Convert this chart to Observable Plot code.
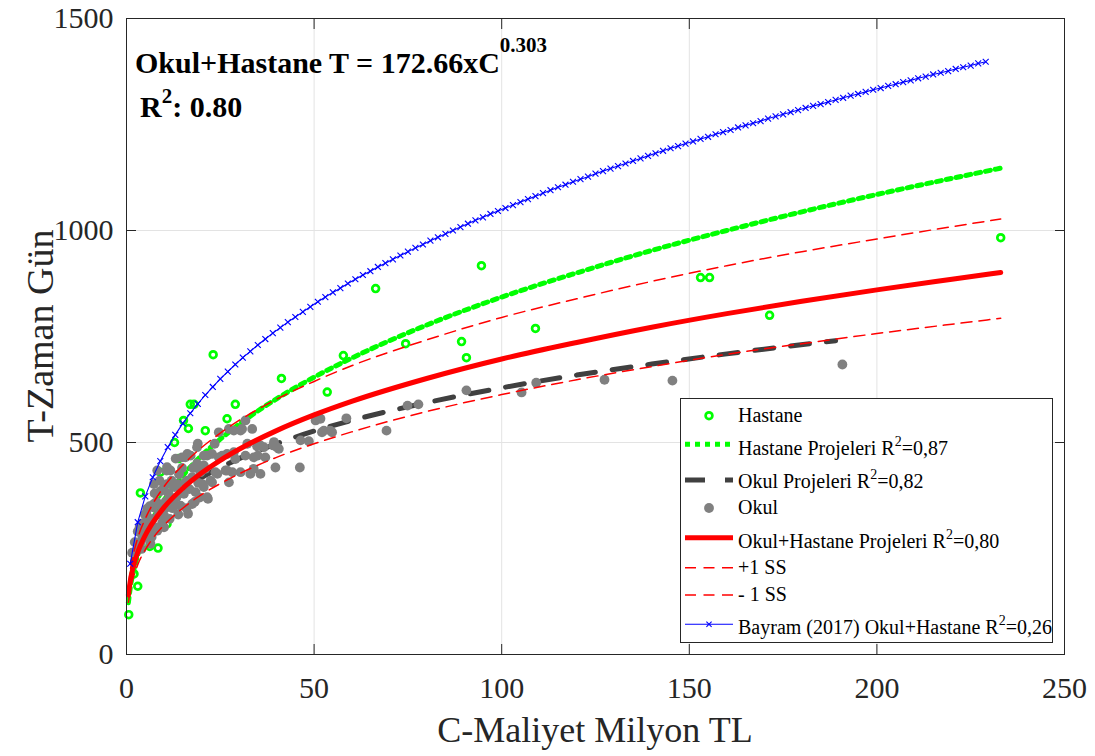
<!DOCTYPE html>
<html><head><meta charset="utf-8">
<script src="https://cdn.jsdelivr.net/npm/d3@7"></script>
<script src="https://cdn.jsdelivr.net/npm/@observablehq/plot@0.6"></script>
<style>body{margin:0;background:#fff}#chart{width:1095px;height:756px}</style>
</head><body><div id="chart"></div>
<script>
// ---------- DATA ----------
const xTicks = [0, 50, 100, 150, 200, 250];
const yTicks = [0, 500, 1000, 1500];

// Hastane (hospital) projects: cost (million TL) and duration (days)
const hastaneC = [0.6,2.0,3.0,3.7,6.2,8.4,8.2,9.0,10.8,12.8,13.9,15.2,16.5,17.0,18.0,21.0,23.1,26.8,29.0,41.3,53.5,57.8,66.4,74.4,89.3,90.6,94.6,109.0,153.0,155.4,171.4,233.0];
const hastaneT = [94,190,161,381,255,251,377,430,308,500,462,552,533,590,590,528,707,556,590,651,619,705,863,733,738,700,917,769,889,889,800,983];

// Okul (school) projects
const okulC = [1.5,2.2,2.8,3.0,3.5,3.8,4.0,4.2,4.4,4.6,4.9,5.1,5.3,5.5,5.8,6.0,6.2,6.4,6.4,6.7,7.0,7.1,7.3,7.3,7.5,7.8,8.0,8.2,8.2,8.5,8.8,9.0,9.2,9.5,10.0,10.0,10.0,10.4,10.7,10.8,10.8,10.8,11.2,11.5,11.7,11.7,12.0,12.3,12.6,12.8,13.1,13.3,13.5,13.8,14.0,14.4,14.8,14.8,15.3,15.6,15.7,16.0,16.2,16.2,16.4,16.8,17.1,17.5,17.5,17.8,18.2,18.4,18.4,18.8,18.8,19.0,19.1,19.5,19.7,20.2,20.6,20.6,20.6,21.0,21.5,21.5,21.7,22.4,22.8,22.8,23.5,23.7,24.2,24.6,24.6,25.1,25.5,26.4,26.8,26.8,27.3,27.3,28.2,28.6,28.6,29.0,30.4,30.4,30.8,31.7,31.7,32.2,33.0,33.5,33.9,33.9,34.8,35.0,35.7,35.7,36.6,37.0,39.1,39.3,39.7,40.1,40.6,46.2,46.4,48.6,50.4,51.7,52.1,52.6,54.3,54.8,58.6,69.3,74.9,77.8,90.6,105.3,109.2,127.4,145.5,190.8];
const okulT = [240,265,245,290,300,265,249,275,310,292,330,277,332,344,316,300,350,292,261,277,320,347,355,402,380,300,360,292,434,330,410,385,350,310,300,328,395,360,434,347,402,442,380,320,371,434,410,345,355,395,462,370,402,330,425,351,465,440,379,405,465,345,410,473,332,390,469,355,418,440,360,383,442,450,489,497,405,370,430,402,446,469,395,438,371,469,367,410,406,473,497,430,426,524,465,465,469,434,434,473,406,532,430,477,528,461,430,528,532,552,469,497,426,532,465,438,491,469,493,426,489,465,493,501,441,489,485,441,505,503,552,556,524,528,528,524,557,528,587,590,623,618,641,648,646,684];

// Fitted curves
const fitC = [0.5,1,2,3,5,7,10,15,20,25,30,40,50,60,80,100,120,140,160,180,200,220,233];
const okulHastaneFitT = [140,173,213,241,281,311,347,392,428,458,484,528,565,597,651,697,736,772,804,833,860,885,901];
const plusSST  = [160,197,243,275,320,355,396,447,488,522,552,602,644,681,742,795,839,880,917,950,980,1009,1027];
const minusSST = [123,152,187,212,247,274,305,345,377,403,426,465,497,525,573,613,648,679,708,733,757,779,793];
const hastaneFitT = [122,157,202,235,283,320,364,422,469,508,543,603,654,699,777,843,900,953,1000,1044,1085,1123,1147];
const okulFitC = [1.5,2,3,5,7,10,15,20,25,30,40,50,60,80,100,120,140,160,189];
const okulFitT = [215,231,256,292,319,349,387,417,441,462,497,527,552,594,629,659,685,709,740];

// Bayram (2017) curve
const bayramC = [1,3,5,7,9,11,13,15,17,19,21,23,25,27,29,31,33,35,37,39,41,43,45,47,49,51,53,55,57,59,61,63,65,67,69,71,73,75,77,79,81,83,85,87,89,91,93,95,97,99,101,103,105,107,109,111,113,115,117,119,121,123,125,127,129,131,133,135,137,139,141,143,145,147,149,151,153,155,157,159,161,163,165,167,169,171,173,175,177,179,181,183,185,187,189,191,193,195,197,199,201,203,205,207,209,211,213,215,217,219,221,223,225,227,229];
const bayramT = [214,312,373,418,456,489,518,545,569,591,612,631,650,667,684,700,715,730,744,758,771,784,796,808,820,832,843,854,864,875,885,895,904,914,923,932,941,950,959,967,976,984,992,1000,1008,1016,1024,1031,1039,1046,1053,1060,1067,1074,1081,1088,1095,1102,1108,1115,1121,1127,1134,1140,1146,1152,1158,1164,1170,1176,1182,1188,1194,1199,1205,1210,1216,1221,1227,1232,1237,1243,1248,1253,1258,1264,1269,1274,1279,1284,1289,1294,1298,1303,1308,1313,1318,1322,1327,1332,1336,1341,1345,1350,1354,1359,1363,1368,1372,1376,1381,1385,1389,1394,1398];

const legendLabels = ["Hastane","Hastane Projeleri R^2=0,87","Okul Projeleri R^2=0,82","Okul","Okul+Hastane Projeleri R^2=0,80","+1 SS","- 1 SS","Bayram (2017) Okul+Hastane R^2=0,26"];
const xLabel = "C-Maliyet Milyon TL";
const yLabel = "T-Zaman Gün";
const eqMain = "Okul+Hastane T = 172.66xC";
const eqExp = "0.303";
const r2Text = ": 0.80";

// ---------- CHART ----------
const pts = (xs, ys) => xs.map((x, i) => ({x, y: ys[i]}));
const FONT = "'Liberation Serif','Times New Roman',serif";
const GREEN = "#00ff00", RED = "#ff0000", BLUE = "#0000ff", DARK = "#404040", GRAY = "#808080", AX = "#262626";

const plot = Plot.plot({
  width: 1095, height: 756,
  marginLeft: 126, marginRight: 31, marginTop: 18, marginBottom: 102,
  x: {domain: [0, 250]}, y: {domain: [0, 1500]},
  style: {fontFamily: FONT, background: "#fff", color: AX},
  marks: [
    Plot.ruleX(xTicks.slice(1, -1), {stroke: "#e3e3e3", strokeWidth: 1}),
    Plot.ruleY(yTicks.slice(1, -1), {stroke: "#e3e3e3", strokeWidth: 1}),
    Plot.dot(pts(hastaneC, hastaneT), {x: "x", y: "y", r: 3.4, stroke: GREEN, strokeWidth: 2.7, fill: "none"}),
    Plot.line(pts(fitC, hastaneFitT), {x: "x", y: "y", stroke: GREEN, strokeWidth: 5, strokeDasharray: "5,5", curve: "monotone-x"}),
    Plot.line(pts(okulFitC, okulFitT), {x: "x", y: "y", stroke: DARK, strokeWidth: 5, strokeDasharray: "19,17", curve: "monotone-x"}),
    Plot.dot(pts(okulC, okulT), {x: "x", y: "y", r: 4.9, fill: GRAY, stroke: "none"}),
    Plot.line(pts(fitC, okulHastaneFitT), {x: "x", y: "y", stroke: RED, strokeWidth: 5, curve: "monotone-x"}),
    Plot.line(pts(fitC, plusSST), {x: "x", y: "y", stroke: RED, strokeWidth: 1.5, strokeDasharray: "11,7", curve: "monotone-x"}),
    Plot.line(pts(fitC, minusSST), {x: "x", y: "y", stroke: RED, strokeWidth: 1.5, strokeDasharray: "11,7", curve: "monotone-x"}),
    Plot.line(pts(bayramC, bayramT), {x: "x", y: "y", stroke: BLUE, strokeWidth: 1.1}),
    Plot.dot(pts(bayramC, bayramT), {x: "x", y: "y", symbol: "times", r: 2.8, stroke: BLUE, strokeWidth: 1.1}),
    Plot.frame({stroke: AX}),
    Plot.axisX(xTicks, {anchor: "bottom", tickSize: -10, tickFormat: () => "", label: null, stroke: AX}),
    Plot.axisX(xTicks, {anchor: "top", tickSize: -10, tickFormat: () => "", label: null, stroke: AX}),
    Plot.axisY(yTicks, {anchor: "left", tickSize: -10, tickFormat: () => "", label: null, stroke: AX}),
    Plot.axisY(yTicks, {anchor: "right", tickSize: -10, tickFormat: () => "", label: null, stroke: AX}),
    Plot.axisX(xTicks, {anchor: "bottom", tickSize: 0, tickPadding: 22, fontSize: 30, label: null, fill: AX, tickFormat: d => String(d)}),
    Plot.axisY(yTicks, {anchor: "left", tickSize: 0, tickPadding: 13, fontSize: 30, label: null, fill: AX, tickFormat: d => String(d)})
  ]
});
document.getElementById("chart").appendChild(plot);

// ---------- TEXT DECORATIONS ----------
const svg = d3.select(plot);
svg.append("text").attr("x", 595).attr("y", 742).attr("text-anchor", "middle")
  .attr("font-size", 36).attr("fill", AX).attr("font-family", FONT).text(xLabel);
svg.append("text").attr("transform", "translate(53,336) rotate(-90)").attr("text-anchor", "middle")
  .attr("font-size", 38).attr("fill", AX).attr("font-family", FONT).text(yLabel);

const eq = svg.append("text").attr("x", 135).attr("y", 73).attr("font-size", 30).attr("text-anchor", "start")
  .attr("font-weight", "bold").attr("font-family", FONT).attr("fill", "#000");
eq.append("tspan").text(eqMain);
eq.append("tspan").attr("font-size", 21).attr("dy", -21).text(eqExp);
const r2 = svg.append("text").attr("x", 140).attr("y", 117).attr("font-size", 30).attr("text-anchor", "start")
  .attr("font-weight", "bold").attr("font-family", FONT).attr("fill", "#000");
r2.append("tspan").text("R");
r2.append("tspan").attr("font-size", 21).attr("dy", -14).text("2");
r2.append("tspan").attr("dy", 14).text(r2Text);

// ---------- LEGEND ----------
const lg = svg.append("g");
lg.append("rect").attr("x", 680.5).attr("y", 398.5).attr("width", 372).attr("height", 244)
  .attr("fill", "#fff").attr("stroke", AX).attr("stroke-width", 1);
const sampleY = [415.7, 444.3, 480, 508, 537.7, 567.7, 595, 624.3];
const textY = [421.7, 455, 488, 514, 547.7, 574.3, 601, 634.3];
const x0 = 685, x1 = 733, xm = 709, xt = 738;
lg.append("circle").attr("cx", xm).attr("cy", sampleY[0]).attr("r", 3.4).attr("fill", "none").attr("stroke", GREEN).attr("stroke-width", 2.7);
lg.append("line").attr("x1", x0).attr("x2", x1).attr("y1", sampleY[1]).attr("y2", sampleY[1]).attr("stroke", GREEN).attr("stroke-width", 5).attr("stroke-dasharray", "5,5");
lg.append("line").attr("x1", x0).attr("x2", x1).attr("y1", sampleY[2]).attr("y2", sampleY[2]).attr("stroke", DARK).attr("stroke-width", 5).attr("stroke-dasharray", "20,20");
lg.append("circle").attr("cx", xm).attr("cy", sampleY[3]).attr("r", 4.9).attr("fill", GRAY);
lg.append("line").attr("x1", x0).attr("x2", x1).attr("y1", sampleY[4]).attr("y2", sampleY[4]).attr("stroke", RED).attr("stroke-width", 5);
[5, 6].forEach(i => lg.append("line").attr("x1", x0).attr("x2", x1).attr("y1", sampleY[i]).attr("y2", sampleY[i]).attr("stroke", RED).attr("stroke-width", 1.5).attr("stroke-dasharray", "11,7.5"));
lg.append("line").attr("x1", x0).attr("x2", x1).attr("y1", sampleY[7]).attr("y2", sampleY[7]).attr("stroke", BLUE).attr("stroke-width", 1.1);
lg.append("path").attr("d", `M${xm-2.6},${sampleY[7]-2.6}L${xm+2.6},${sampleY[7]+2.6}M${xm-2.6},${sampleY[7]+2.6}L${xm+2.6},${sampleY[7]-2.6}`).attr("stroke", BLUE).attr("stroke-width", 1.1);
legendLabels.forEach((lab, i) => {
  const t = lg.append("text").attr("x", xt).attr("y", textY[i]).attr("font-size", 20).attr("text-anchor", "start")
    .attr("font-family", FONT).attr("fill", "#000");
  const parts = lab.split("^2");
  t.append("tspan").text(parts[0]);
  if (parts.length > 1) {
    t.append("tspan").attr("font-size", 14).attr("dy", -9).text("2");
    t.append("tspan").attr("dy", 9).text(parts[1]);
  }
});
</script>
</body></html>
